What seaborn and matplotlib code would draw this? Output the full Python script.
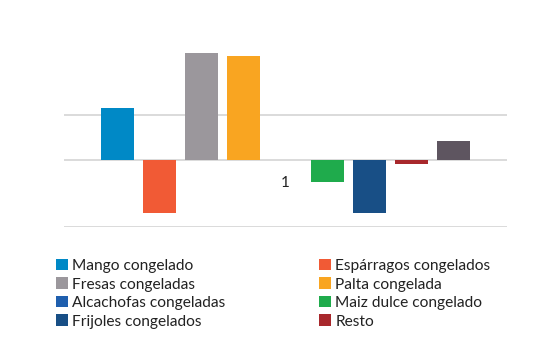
import numpy as np
import pandas as pd
import matplotlib
matplotlib.use("Agg")
import matplotlib.pyplot as plt
import seaborn as sns

# series shown as bars of the single category "1"
series = ["Mango congelado", "Espárragos congelados", "Fresas congeladas",
          "Palta congelada", "Alcachofas congeladas", "Maiz dulce congelado",
          "Frijoles congelados", "Resto", "Total"]
values = [1.16, -1.19, 2.40, 2.34, 0.0, -0.49, -1.19, -0.09, 0.42]
colors = ["#0089C6", "#F15A35", "#9B979C", "#F9A521", "#1F5FAE",
          "#1FAB4C", "#184F86", "#A8282C", "#5E5560"]
category = ["1"] * len(series)
gridlines = [-1.5, 0, 1]

df = pd.DataFrame({"cat": category, "serie": series, "valor": values})

sns.set_style("white")
plt.rcParams["font.family"] = ["Lato", "DejaVu Sans"]

fig = plt.figure(figsize=(5.36, 3.37), dpi=100)
ax = fig.add_axes([64 / 536, 1 - 226.5 / 337, 443 / 536, 213.5 / 337])

sns.barplot(data=df, x="cat", y="valor", hue="serie", hue_order=series,
            palette=colors, width=0.8, gap=0.2, saturation=1,
            edgecolor="none", ax=ax, legend=True)

handles, labels = ax.get_legend_handles_labels()
ax.get_legend().remove()

ax.set_ylim(-1.5, 3.3)
ax.set_xlim(-0.4688, 0.4688)
ax.set_yticks(gridlines)
ax.set_yticklabels([])
ax.yaxis.grid(True, color="#D4D4D4", linewidth=1.2)
ax.set_axisbelow(True)
for s in ["left", "right", "top"]:
    ax.spines[s].set_visible(False)
ax.spines["bottom"].set_position(("data", 0))
ax.spines["bottom"].set_visible(False)
ax.tick_params(axis="x", length=0, pad=12, labelsize=11, labelcolor="#222222")
ax.tick_params(axis="y", length=0)
ax.set_xlabel("")
ax.set_ylabel("")

# legend in rows of two like the original, last series not listed
order = [0, 2, 4, 6, 1, 3, 5, 7]
fig.legend([handles[i] for i in order], [labels[i] for i in order],
           ncol=2, loc="upper left", bbox_to_anchor=(56 / 536, 1 - 259 / 337),
           frameon=False, fontsize=11.2, handlelength=0.75, handleheight=0.75,
           handletextpad=0.3, columnspacing=6.0, labelspacing=0.28,
           borderpad=0, borderaxespad=0, labelcolor="#222222")

fig.savefig("out.png", dpi=100)
